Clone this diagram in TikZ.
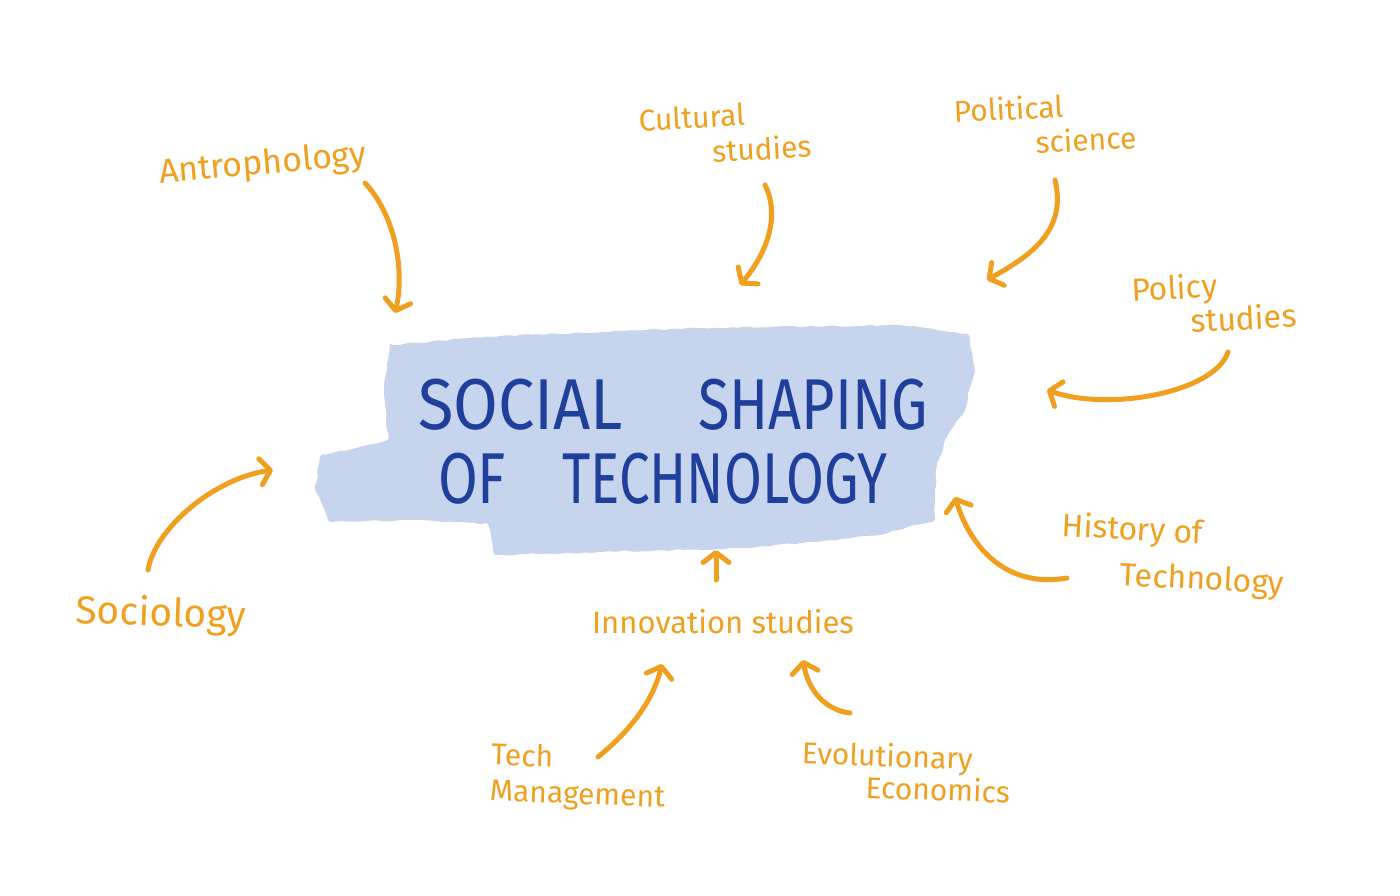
\documentclass[tikz,border=0pt]{standalone}
\usepackage{fontspec}
\setmainfont{Fira Sans}
\usetikzlibrary{arrows.meta,decorations.pathmorphing}

\definecolor{marker}{HTML}{F0A020}
\definecolor{brush}{HTML}{C6D4EE}
\definecolor{ink}{HTML}{1F3F9A}

\tikzset{
  field/.style={text=marker, align=left, inner sep=0pt,
    font=\fontsize{30}{32}\selectfont},
  feed/.style={draw=marker, line width=5pt, line cap=round, line join=round,
    -{Straight Barb[length=10pt,width=26pt,round]}},
}

\newcommand{\narrow}[2][0.8]{\scalebox{#1}[1]{#2}}

\begin{document}
\begin{tikzpicture}[x=1pt,y=-1pt]
	\useasboundingbox (0,0) rectangle (1400,896);
	% brush stroke behind the title
	\fill[brush, rounded corners=2pt, decorate,
	  decoration={random steps,segment length=6pt,amplitude=1pt}]
	(390,345) -- (500,336) -- (700,328) -- (900,325) -- (968,334) -- (975,370)
	-- (965,410) -- (945,440) -- (936,470) -- (935,520) -- (880,535) -- (750,548)
	-- (600,552) -- (495,555) -- (488,524) -- (420,520) -- (330,522) -- (315,490)
	-- (320,456) -- (388,440) -- (384,390) -- cycle;
	% title
	\node[text=ink, align=left, inner sep=0pt, font=\fontsize{72}{74}\selectfont]
	(title) at (673,442)
	{\makebox[510pt][s]{\narrow[0.9]{SOCIAL}\hfill\narrow{SHAPING}}\\
	 \hspace*{20pt}\makebox[450pt][s]{\narrow{OF}\hfill\narrow[0.76]{TECHNOLOGY}}};
	% fields around it
	\node[field, rotate=5, font=\fontsize{34}{36}\selectfont] (anthro) at (263,165) {Antrophology};
	\node[field, rotate=3, font=\fontsize{30}{35}\selectfont] (cult) at (725,133) {Cultural\\\hspace*{72pt}studies};
	\node[field, rotate=3, font=\fontsize{30}{35}\selectfont] (polit) at (1045,124) {Political\\\hspace*{80pt}science};
	\node[field, rotate=3, font=\fontsize{32}{34}\selectfont] (policy) at (1214,302) {Policy\\\hspace*{58pt}studies};
	\node[field, rotate=-3, font=\fontsize{32}{46}\selectfont] (hist) at (1173,556) {History of\\\hspace*{61pt}Technology};
	\node[field, font=\fontsize{31}{33}\selectfont] (innov) at (723,622) {Innovation studies};
	\node[field, rotate=-2, font=\fontsize{30}{36}\selectfont] (tech) at (578,778) {Tech\\Management};
	\node[field, rotate=-2] (evol) at (906,772) {Evolutionary\\\hspace*{65pt}Economics};
	\node[field, rotate=-2, font=\fontsize{39}{41}\selectfont] (socio) at (161,615) {Sociology};
	% arrow ends
	\coordinate (anthro-out) at (365,183);  \coordinate (anthro-in) at (395,313);
	\coordinate (cult-out) at (765,185);    \coordinate (cult-in) at (740,285);
	\coordinate (polit-out) at (1055,180);  \coordinate (polit-in) at (987,280);
	\coordinate (policy-out) at (1228,352); \coordinate (policy-in) at (1047,390);
	\coordinate (hist-out) at (1067,578);   \coordinate (hist-in) at (955,497);
	\coordinate (socio-out) at (148,570);   \coordinate (socio-in) at (273,470);
	\coordinate (innov-out) at (716,580);   \coordinate (innov-in) at (716,550);
	\coordinate (tech-out) at (598,757);    \coordinate (tech-in) at (662,664);
	\coordinate (evol-out) at (850,713);    \coordinate (evol-in) at (803,660);
	% arrows
	\draw[feed] (anthro-out) .. controls (395,215) and (405,270) .. (anthro-in);
	\draw[feed] (cult-out) .. controls (780,215) and (768,252) .. (cult-in);
	\draw[feed] (polit-out) .. controls (1067,230) and (1032,255) .. (polit-in);
	\draw[feed] (policy-out) .. controls (1215,392) and (1110,412) .. (policy-in);
	\draw[feed] (hist-out) .. controls (1010,588) and (972,552) .. (hist-in);
	\draw[feed] (socio-out) .. controls (155,528) and (215,478) .. (socio-in);
	\draw[feed] (innov-out) -- (innov-in);
	\draw[feed] (tech-out) .. controls (625,735) and (652,705) .. (tech-in);
	\draw[feed] (evol-out) .. controls (825,710) and (808,690) .. (evol-in);
\end{tikzpicture}
\end{document}
